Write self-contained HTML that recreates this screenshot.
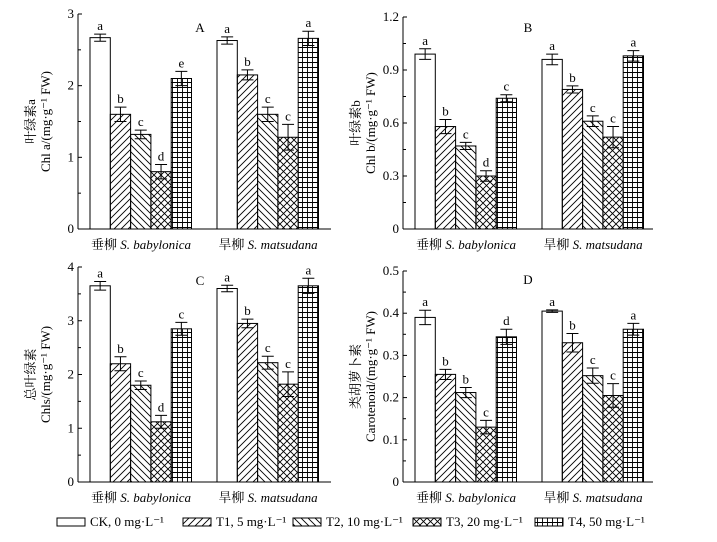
<!DOCTYPE html>
<html><head><meta charset="utf-8"><style>
body{margin:0;background:#fff}
svg{display:block;font-family:"Liberation Serif","Noto Serif CJK SC",serif}
</style></head><body>
<svg id="c" width="717" height="542">
<defs>
<pattern id="p1" width="7" height="7" patternUnits="userSpaceOnUse"><path d="M-1,8 L8,-1 M-4,4 L4,-4 M3,11 L11,3" stroke="#000" stroke-width="0.9"/></pattern>
<pattern id="p2" width="7" height="7" patternUnits="userSpaceOnUse"><path d="M-1,-1 L8,8 M-4,3 L4,11 M3,-4 L11,4" stroke="#000" stroke-width="0.9"/></pattern>
<pattern id="p3" width="7" height="7" patternUnits="userSpaceOnUse"><path d="M-1,-1 L8,8 M-1,8 L8,-1" stroke="#000" stroke-width="0.9"/></pattern>
<pattern id="p4" width="5" height="5" patternUnits="userSpaceOnUse"><path d="M0,2.5 H5 M2.5,0 V5" stroke="#000" stroke-width="0.9"/></pattern>
</defs>
</svg>
<script>
const categories=["垂柳 S. babylonica","旱柳 S. matsudana"];
const treatments=["CK, 0 mg·L⁻¹","T1, 5 mg·L⁻¹","T2, 10 mg·L⁻¹","T3, 20 mg·L⁻¹","T4, 50 mg·L⁻¹"];
const aVals=[[2.67,1.6,1.32,0.8,2.1],[2.63,2.15,1.6,1.28,2.66]];
const aErr=[[0.05,0.1,0.06,0.1,0.1],[0.05,0.07,0.1,0.18,0.1]];
const aLet=[["a","b","c","d","e"],["a","b","c","c","a"]];
const bVals=[[0.99,0.58,0.47,0.3,0.74],[0.96,0.79,0.61,0.52,0.98]];
const bErr=[[0.03,0.04,0.02,0.03,0.02],[0.03,0.02,0.03,0.06,0.03]];
const bLet=[["a","b","c","d","c"],["a","b","c","c","a"]];
const cVals=[[3.65,2.2,1.8,1.12,2.85],[3.6,2.95,2.22,1.82,3.65]];
const cErr=[[0.08,0.13,0.08,0.12,0.12],[0.06,0.08,0.12,0.23,0.14]];
const cLet=[["a","b","c","d","c"],["a","b","c","c","a"]];
const dVals=[[0.39,0.255,0.212,0.13,0.344],[0.405,0.33,0.252,0.205,0.362]];
const dErr=[[0.017,0.012,0.012,0.016,0.018],[0.003,0.022,0.018,0.028,0.014]];
const dLet=[["a","b","b","c","d"],["a","b","c","c","a"]];
const aTicks=[0,1,2,3],bTicks=[0,0.3,0.6,0.9,1.2],cTicks=[0,1,2,3,4],dTicks=[0,0.1,0.2,0.3,0.4,0.5];
const fills=["#fff","url(#p1)","url(#p2)","url(#p3)","url(#p4)"];
const svg=document.getElementById('c');const NS="http://www.w3.org/2000/svg";
function mk(t,a,p){const e=document.createElementNS(NS,t);for(const k in a)e.setAttribute(k,a[k]);(p||svg).appendChild(e);return e;}
function txt(x,y,s,a,p){const e=mk('text',Object.assign({x:x,y:y,'font-size':13},a),p);e.textContent=s;return e;}
function panel(name,ax,y0,yTop,xEnd,ticks,vals,errs,lets,label,yl1,yl2,lx,ly){
 const g=mk('g',{});
 
 
 const max=ticks[ticks.length-1];
 const ys=v=>y0-(v/max)*(y0-yTop);
 const ax1=mk('line',{x1:ax,y1:yTop,x2:ax,y2:y0,stroke:'#000'},g);
 
 const ax2=mk('line',{x1:ax,y1:y0,x2:xEnd,y2:y0,stroke:'#000'},g);
 
 for(let i=0;i<ticks.length;i++){const y=ys(ticks[i]);mk('line',{x1:ax,y1:y,x2:ax+4,y2:y,stroke:'#000'},g);
  const t=txt(ax-4,y+4,String(ticks[i]),{'text-anchor':'end'},g);
  
  if(i<ticks.length-1){const ym=ys((ticks[i]+ticks[i+1])/2);mk('line',{x1:ax,y1:ym,x2:ax+3,y2:ym,stroke:'#000'},g);}}
 const bw=20.3;
 for(let c=0;c<2;c++){const gx=ax+12+c*127;
  for(let s=0;s<5;s++){const x=gx+s*bw,v=vals[c][s],y=ys(v);
   const r=mk('rect',{x:x,y:y,width:bw,height:y0-y,fill:fills[s],stroke:'#000','stroke-width':1},g);
   
   const e=errs[c][s],yt=ys(v+e),yb=ys(v-e),cx=x+bw/2;
   mk('path',{d:`M${cx},${yt}V${yb}M${cx-6},${yt}H${cx+6}M${cx-6},${yb}H${cx+6}`,stroke:'#000',fill:'none'},g);
   const l=txt(cx,yt-4,lets[c][s],{'text-anchor':'middle'},g);
   }
  const parts=categories[c].split(' ');
  const ct=mk('text',{x:gx+51,y:y0+20,'font-size':13,'text-anchor':'middle'},g);
  
  ct.innerHTML=parts[0]+' <tspan font-style="italic">'+parts.slice(1).join(' ')+'</tspan>';}
 const pl=txt(lx,ly,label,{'text-anchor':'middle'},g);
 
 const mid=(y0+yTop)/2;
 const t1=txt(0,0,yl1,{'text-anchor':'middle',transform:`translate(${ax-43},${mid}) rotate(-90)`},g);
 
 if(yl2){const t2=txt(0,0,yl2,{'text-anchor':'middle',transform:`translate(${ax-28},${mid}) rotate(-90)`},g);
 }
}
panel('a',78,229,14,331,aTicks,aVals,aErr,aLet,'A','叶绿素a','Chl a/(mg·g⁻¹ FW)',200,32);
panel('b',403,229,17,653,bTicks,bVals,bErr,bLet,'B','叶绿素b','Chl b/(mg·g⁻¹ FW)',528,32);
panel('c',78,482,267,331,cTicks,cVals,cErr,cLet,'C','总叶绿素','Chls/(mg·g⁻¹ FW)',200,285);
panel('d',403,482,271,653,dTicks,dVals,dErr,dLet,'D','类胡萝卜素','Carotenoid/(mg·g⁻¹ FW)',528,284);
const lgX=[57,183,293,413,535];
const lg=mk('g',{});


for(let s=0;s<5;s++){
 const r=mk('rect',{x:lgX[s],y:518,width:28,height:8,fill:fills[s],stroke:'#000'},lg);
 
 const t=txt(lgX[s]+33,526,treatments[s],{},lg);
 }
</script>
</body></html>
